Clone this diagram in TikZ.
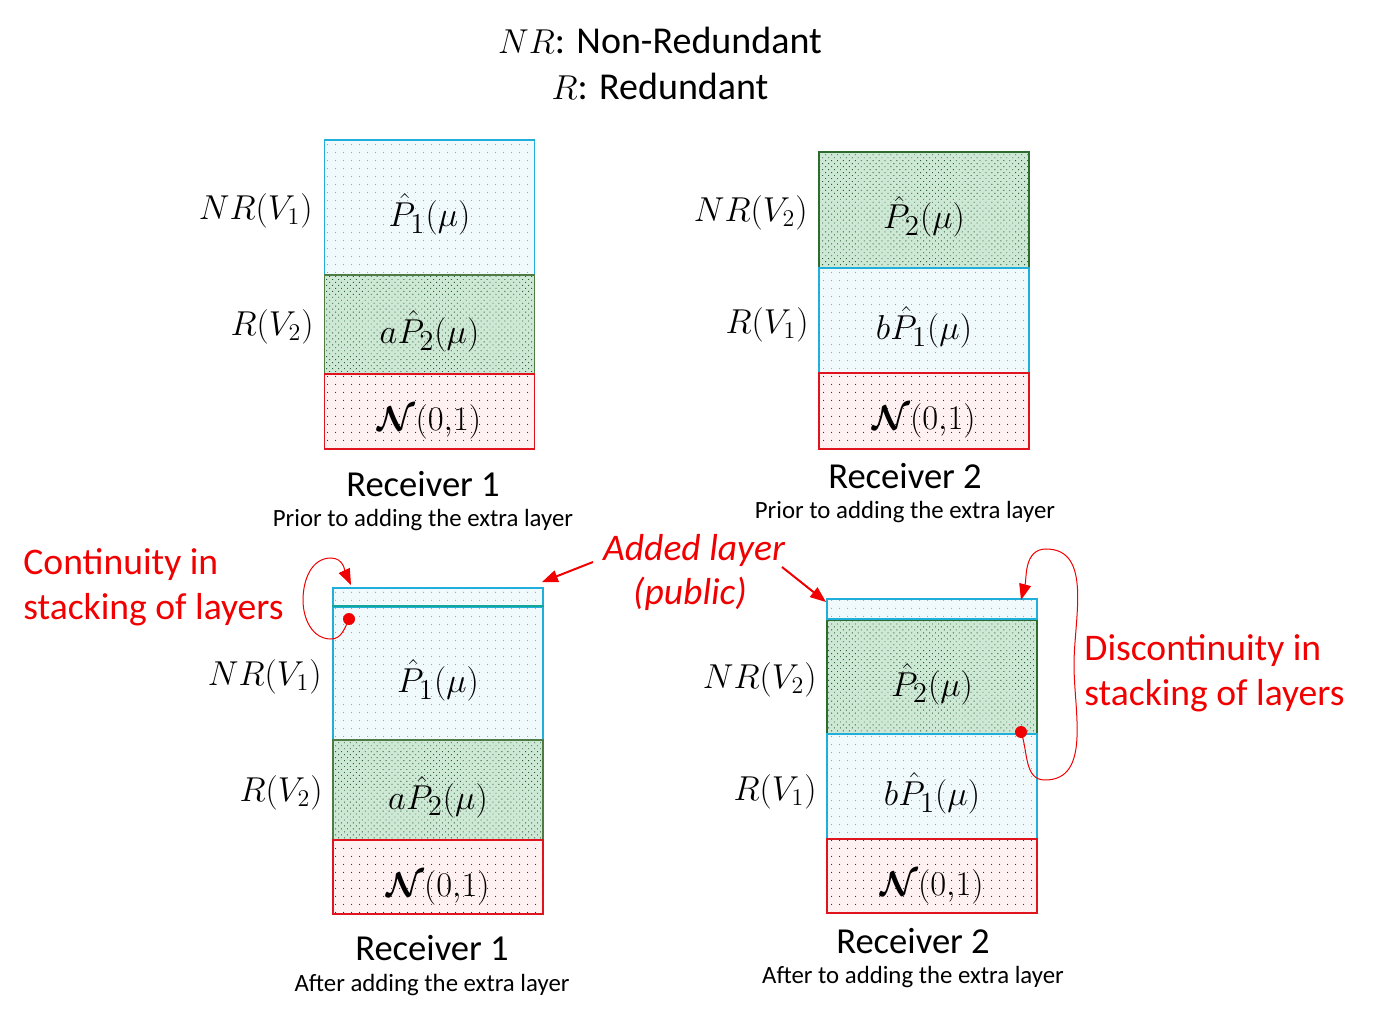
\documentclass[tikz,border=0pt]{standalone}
\usepackage{amsmath,bm}
\usepackage{fontspec}
\setmainfont{Carlito}
\usetikzlibrary{patterns.meta,arrows.meta}
\definecolor{cyb}{HTML}{1FAFDA}
\definecolor{grb}{HTML}{4F7B45}
\definecolor{rdb}{HTML}{E0141E}
\definecolor{redt}{HTML}{F00000}
\definecolor{cyf}{HTML}{F0FAFD}
\definecolor{grf}{HTML}{CDE8D4}
\definecolor{rdf}{HTML}{FFF0F2}
\definecolor{grd}{HTML}{2F5F3A}
\definecolor{tealb}{HTML}{13A59A}
\begin{document}
\begin{tikzpicture}[x=0.5pt,y=-0.5pt,
  lay/.style={rectangle, inner sep=0pt, minimum width=105pt, font=\fontsize{19}{22}\selectfont, line width=0.9pt, text height=19pt, text depth=0pt},
  thin/.style={text height=0pt, text depth=0pt},
  cyl/.style={lay, draw=cyb, preaction={fill=cyf}, pattern={Dots[distance=4pt,radius=0.3pt]}, pattern color=gray!80},
  grl/.style={lay, draw=grb, preaction={fill=grf}, pattern={Dots[distance=2.1pt,radius=0.32pt,angle=45]}, pattern color=grd},
  rdl/.style={lay, draw=rdb, preaction={fill=rdf}, pattern={Dots[distance=4pt,radius=0.3pt]}, pattern color=black!60!red},
  lab/.style={anchor=east, font=\fontsize{18}{21}\selectfont, inner sep=0pt},
  rec/.style={font=\fontsize{18.3}{21}\selectfont, inner sep=0pt},
  sub/.style={font=\fontsize{12.4}{14}\selectfont, inner sep=0pt},
  redtxt/.style={text=redt, font=\fontsize{18.8}{22}\selectfont, inner sep=0pt},
  bigarr/.style={draw=redt, line width=1pt, -{Triangle[length=8pt,width=6pt]}},
  looparr/.style={draw=redt, line width=0.5pt, -{Triangle[length=8pt,width=6pt]}},
  reddot/.style={circle, fill=redt, inner sep=0pt, minimum size=6pt}
]
\useasboundingbox (0,0) rectangle (1378,1016);
% title
\node[font=\fontsize{19}{22}\selectfont, inner sep=0pt] (t1) at (660,40) {$NR$: Non-Redundant};
\node[font=\fontsize{19}{22}\selectfont, inner sep=0pt] (t2) at (660,86) {$R$: Redundant};

% top-left receiver 1
\node[cyl, minimum height=67.5pt] (a1) at (429.5,207.5) {$\hat{P}_1(\mu)$};
\node[grl, minimum height=49.5pt] (a2) at (429.5,324.5) {$a\hat{P}_2(\mu)$};
\node[rdl, minimum height=37.5pt] (a3) at (429.5,411.5) {$\bm{\mathcal{N}}(0{,}1)$};
\node[lab] (la1) at (313,211) {$NR(V_1)$};
\node[lab] (la2) at (314,327) {$R(V_2)$};
\node[rec] (ra) at (423,484) {Receiver 1};
\node[sub] (sa) at (423,520) {Prior to adding the extra layer};

% top-right receiver 2
\node[grl, draw=gray!60!green!60!black, minimum height=58pt] (b1) at (924,210) {$\hat{P}_2(\mu)$};
\node[cyl, minimum height=52.5pt] (b2) at (924,320.5) {$b\hat{P}_1(\mu)$};
\node[rdl, minimum height=38pt] (b3) at (924,411) {$\bm{\mathcal{N}}(0{,}1)$};
\node[lab] (lb1) at (808,213) {$NR(V_2)$};
\node[lab] (lb2) at (809,325) {$R(V_1)$};
\node[rec] (rb) at (905,476) {Receiver 2};
\node[sub] (sb) at (905,512) {Prior to adding the extra layer};

% bottom-left receiver 1 after
\node[cyl, thin, minimum height=9.5pt] (c0) at (438,597.5) {};
\node[cyl, minimum height=66.5pt] (c1) at (438,673.5) {$\hat{P}_1(\mu)$};
\draw[tealb, line width=1pt] (c1.north west) -- (c1.north east);
\node[grl, minimum height=50pt] (c2) at (438,790) {$a\hat{P}_2(\mu)$};
\node[rdl, minimum height=37pt] (c3) at (438,877) {$\bm{\mathcal{N}}(0{,}1)$};
\node[lab] (lc1) at (322,677) {$NR(V_1)$};
\node[lab] (lc2) at (323,793) {$R(V_2)$};
\node[rec] (rc) at (432,948) {Receiver 1};
\node[sub] (sc) at (432,985) {After adding the extra layer};

% bottom-right receiver 2 after
\node[cyl, thin, minimum height=10.5pt] (d0) at (932,609.5) {};
\node[grl, draw=gray!60!green!60!black, minimum height=57pt] (d1) at (932,677) {$\hat{P}_2(\mu)$};
\node[cyl, minimum height=52.5pt] (d2) at (932,786.5) {$b\hat{P}_1(\mu)$};
\draw[cyb, line width=0.9pt] (d1.north west) -- (d1.north east);
\node[rdl, minimum height=37pt] (d3) at (932,876) {$\bm{\mathcal{N}}(0{,}1)$};
\node[lab] (ld1) at (817,680) {$NR(V_2)$};
\node[lab] (ld2) at (817,792) {$R(V_1)$};
\node[rec] (rd) at (913,941) {Receiver 2};
\node[sub] (sd) at (913,977) {After to adding the extra layer};

% red annotations
\node[redtxt, anchor=west] (cont1) at (23,565) {Continuity in};
\node[redtxt, anchor=west] (cont2) at (23,610) {stacking of layers};
\node[redtxt, font=\fontsize{18.8}{22}\selectfont\itshape] (add1) at (694,550) {Added layer};
\node[redtxt, font=\fontsize{18.8}{22}\selectfont\itshape] (add2) at (690,594) {(public)};
\node[redtxt, anchor=west] (dis1) at (1084,651) {Discontinuity in};
\node[redtxt, anchor=west] (dis2) at (1084,696) {stacking of layers};

% added layer arrows
\coordinate (p1) at (593,562);
\coordinate (p2) at (782,567);
\draw[bigarr] (p1) -- ([shift={(-2,-5)}]c0.north east);
\draw[bigarr] (p2) -- ([shift={(0,4)}]d0.north west);

% continuity loop
\node[reddot] (dot1) at (349,619) {};
\coordinate (e1) at (351,585);
\draw[looparr] (dot1.center) to[out=-115,in=0] (331,639) to[out=180,in=-90] (303,600) to[out=90,in=180] (331,558) to[out=0,in=115] (e1);

% discontinuity loop
\node[reddot] (dot2) at (1021,732) {};
\coordinate (e2) at (1021,600);
\draw[looparr] (dot2.center) to[out=-70,in=180] (1045,780) to[out=0,in=-90] (1074,665) to[out=90,in=0] (1046,549) to[out=180,in=75] (e2);
\end{tikzpicture}
\end{document}
